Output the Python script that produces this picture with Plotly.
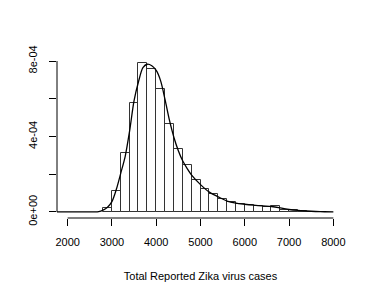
import plotly.graph_objects as go

# Histogram bins (left edges), bin width and density values
bin_left = [2800, 3000, 3200, 3400, 3600, 3800, 4000, 4200, 4400, 4600, 4800, 5000,
            5200, 5400, 5600, 5800, 6000, 6200, 6400, 6600, 6800, 7000, 7200, 7400, 7600]
bin_width = 200
bin_density = [0.20e-4, 1.09e-4, 3.15e-4, 5.80e-4, 7.92e-4, 7.60e-4, 6.54e-4, 4.64e-4,
               3.32e-4, 2.50e-4, 1.70e-4, 1.24e-4, 0.95e-4, 0.70e-4, 0.51e-4, 0.44e-4,
               0.39e-4, 0.34e-4, 0.26e-4, 0.30e-4, 0.13e-4, 0.08e-4, 0.04e-4, 0.02e-4, 0.01e-4]

# Kernel density curve
dens_x = [1700, 2000, 2400, 2600, 2700, 2800, 2900, 3000, 3100, 3200, 3300, 3400, 3500,
          3600, 3700, 3800, 3900, 4000, 4100, 4200, 4300, 4400, 4500, 4600, 4700, 4800,
          5000, 5200, 5400, 5600, 5800, 6000, 6200, 6400, 6600, 6800, 7000, 7200, 7400,
          7600, 7800, 8000]
dens_y = [0, 0, 0, 0.005e-4, 0.02e-4, 0.1e-4, 0.25e-4, 0.55e-4, 1.2e-4, 2.06e-4, 2.95e-4,
          4.3e-4, 5.9e-4, 6.9e-4, 7.65e-4, 7.83e-4, 7.75e-4, 7.5e-4, 6.95e-4, 5.95e-4,
          4.85e-4, 3.95e-4, 3.25e-4, 2.7e-4, 2.3e-4, 1.95e-4, 1.45e-4, 1.05e-4, 0.8e-4,
          0.58e-4, 0.47e-4, 0.41e-4, 0.36e-4, 0.32e-4, 0.29e-4, 0.22e-4, 0.13e-4, 0.08e-4,
          0.05e-4, 0.025e-4, 0.01e-4, 0.003e-4]

x_ticks = [2000, 3000, 4000, 5000, 6000, 7000, 8000]
y_ticks = [0, 2e-4, 4e-4, 6e-4, 8e-4]
y_ticktext = ["0e+00", "", "4e-04", "", "8e-04"]
x_title = "Total Reported Zika virus cases"

FONT = "Liberation Sans, Arial, Helvetica, sans-serif"

fig = go.Figure()
fig.add_trace(go.Bar(
    x=[b + bin_width / 2 for b in bin_left], y=bin_density, width=bin_width,
    marker=dict(color="rgba(255,255,255,0)", line=dict(color="#333333", width=1)),
    hoverinfo="skip", showlegend=False))
fig.add_trace(go.Scatter(
    x=dens_x, y=dens_y, mode="lines", line=dict(color="black", width=1.3, shape="spline", smoothing=0.8),
    hoverinfo="skip", showlegend=False))

xspan = x_ticks[-1] - x_ticks[0]
yspan = y_ticks[-1] - y_ticks[0]
fig.update_layout(
    width=374, height=289,
    margin=dict(l=57, r=30, t=55, b=71),
    paper_bgcolor="white", plot_bgcolor="white",
    font=dict(family=FONT, size=11, color="black"),
    bargap=0,
    xaxis=dict(range=[x_ticks[0] - 0.04 * xspan, x_ticks[-1] + 0.04 * xspan],
               tickvals=x_ticks, ticktext=[str(v) for v in x_ticks],
               ticks="outside", ticklen=7, tickwidth=1, tickcolor="black",
               ticklabelstandoff=7,
               showgrid=False, zeroline=False, showline=False, automargin=False,
               title=dict(text=x_title, standoff=25, font=dict(size=11))),
    yaxis=dict(range=[y_ticks[0] - 0.04 * yspan, y_ticks[-1] + 0.04 * yspan],
               tickvals=y_ticks, ticktext=y_ticktext, tickangle=-90,
               ticks="outside", ticklen=7, tickwidth=1, tickcolor="black",
               ticklabelstandoff=8,
               showgrid=False, zeroline=False, showline=False, automargin=False),
    shapes=[
        dict(type="line", xref="x", yref="paper", x0=x_ticks[0], x1=x_ticks[-1], y0=0, y1=0,
             line=dict(color="black", width=1)),
        dict(type="line", xref="paper", yref="y", x0=0, x1=0, y0=y_ticks[0], y1=y_ticks[-1],
             line=dict(color="black", width=1)),
    ],
)
fig.write_html("out.html", config={"displayModeBar": False},
               post_script="document.body.style.margin='0';document.body.style.padding='0';")
